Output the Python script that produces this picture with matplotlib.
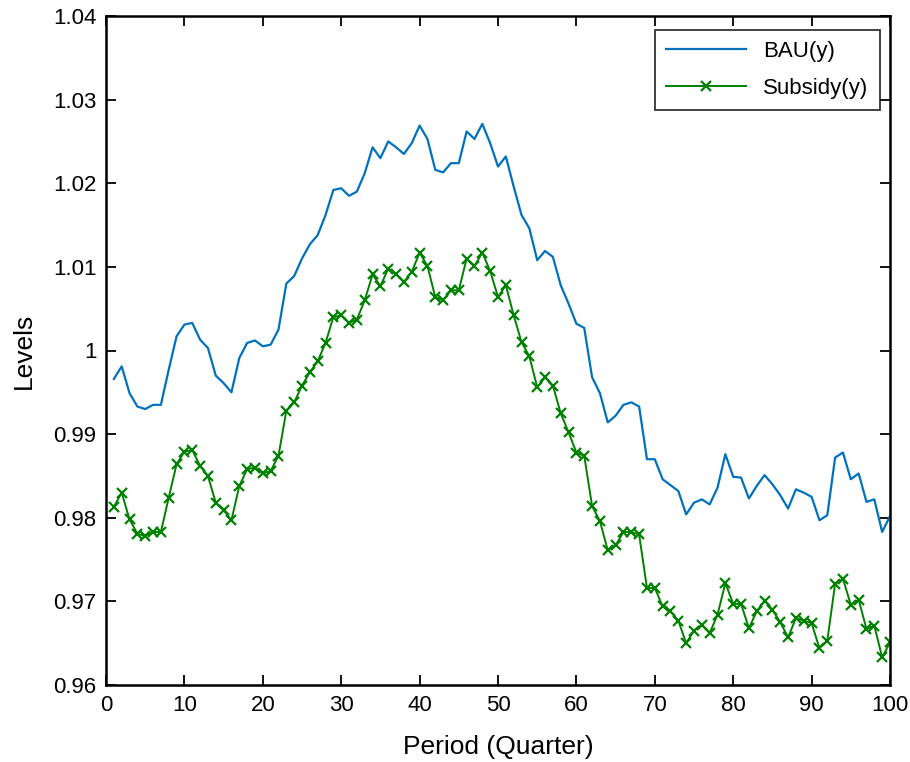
import matplotlib
matplotlib.use("Agg")
import matplotlib.pyplot as plt
import numpy as np

plt.rcParams['font.family'] = ['Liberation Sans', 'DejaVu Sans']

periods = list(range(1, 101))

bau_y = [
    0.9966, 0.9981, 0.9949, 0.9933, 0.9930, 0.9935, 0.9935, 0.9977, 1.0017, 1.0031,
    1.0033, 1.0013, 1.0003, 0.9970, 0.9961, 0.9950, 0.9991, 1.0009, 1.0012, 1.0005,
    1.0007, 1.0025, 1.0080, 1.0089, 1.0110, 1.0127, 1.0138, 1.0162, 1.0192, 1.0194,
    1.0185, 1.0190, 1.0212, 1.0243, 1.0230, 1.0250, 1.0243, 1.0235, 1.0248, 1.0269,
    1.0253, 1.0216, 1.0213, 1.0224, 1.0224, 1.0262, 1.0253, 1.0271, 1.0248, 1.0220,
    1.0232, 1.0196, 1.0162, 1.0146, 1.0108, 1.0119, 1.0112, 1.0078, 1.0056, 1.0032,
    1.0027, 0.9968, 0.9949, 0.9914, 0.9922, 0.9935, 0.9938, 0.9933, 0.9870, 0.9870,
    0.9846, 0.9839, 0.9832, 0.9804, 0.9818, 0.9822, 0.9816, 0.9836, 0.9876, 0.9849,
    0.9848, 0.9823, 0.9838, 0.9851, 0.9840, 0.9827, 0.9811, 0.9834, 0.9830, 0.9825,
    0.9797, 0.9803, 0.9872, 0.9878, 0.9846, 0.9853, 0.9819, 0.9822, 0.9783, 0.9802,
]

subsidy_y = [
    0.9813, 0.9830, 0.9798, 0.9781, 0.9778, 0.9783, 0.9783, 0.9824, 0.9864, 0.9879,
    0.9881, 0.9862, 0.9850, 0.9818, 0.9809, 0.9797, 0.9838, 0.9858, 0.9860, 0.9853,
    0.9856, 0.9874, 0.9928, 0.9938, 0.9958, 0.9974, 0.9987, 1.0009, 1.0040, 1.0042,
    1.0033, 1.0037, 1.0060, 1.0091, 1.0077, 1.0098, 1.0091, 1.0082, 1.0094, 1.0117,
    1.0101, 1.0064, 1.0060, 1.0072, 1.0072, 1.0110, 1.0101, 1.0117, 1.0095, 1.0064,
    1.0078, 1.0042, 1.0010, 0.9993, 0.9956, 0.9968, 0.9958, 0.9925, 0.9902, 0.9878,
    0.9874, 0.9814, 0.9796, 0.9761, 0.9767, 0.9783, 0.9783, 0.9780, 0.9716, 0.9716,
    0.9694, 0.9688, 0.9677, 0.9650, 0.9665, 0.9672, 0.9662, 0.9684, 0.9722, 0.9697,
    0.9697, 0.9668, 0.9688, 0.9701, 0.9690, 0.9675, 0.9657, 0.9680, 0.9677, 0.9674,
    0.9644, 0.9653, 0.9721, 0.9727, 0.9696, 0.9702, 0.9667, 0.9671, 0.9633, 0.9651,
]

xticks = list(range(0, 101, 10))
yticks = [0.96, 0.97, 0.98, 0.99, 1.00, 1.01, 1.02, 1.03, 1.04]
ytick_labels = ['0.96', '0.97', '0.98', '0.99', '1', '1.01', '1.02', '1.03', '1.04']

fig = plt.figure(figsize=(9.1, 7.62), dpi=100)
ax = fig.add_axes([106/910, 1-685/762, (890-106)/910, (685-16)/762])

ax.plot(periods, bau_y, color='#0072BD', lw=1.6, label='BAU(y)')
ax.plot(periods, subsidy_y, color='#008000', lw=1.4, marker='x', ms=7, mew=1.6,
        label='Subsidy(y)')

ax.set_xlim(0, 100)
ax.set_ylim(0.96, 1.04)
ax.set_xticks(xticks)
ax.set_yticks(yticks)
ax.set_yticklabels(ytick_labels)
ax.tick_params(direction='in', top=True, right=True, labelsize=16, length=7, width=1.3,
               colors='black', pad=7)
for s in ax.spines.values():
    s.set_linewidth(1.8)
    s.set_color('black')

ax.set_xlabel('Period (Quarter)', fontsize=19, labelpad=14)
ax.set_ylabel('Levels', fontsize=19, labelpad=12)

leg = ax.legend(loc='upper right', fontsize=16, frameon=True, fancybox=False,
                edgecolor='black', handlelength=3.6, borderpad=0.5, labelspacing=0.7,
                borderaxespad=0, bbox_to_anchor=(0.987, 0.979))
leg.get_frame().set_linewidth(1.3)

fig.savefig('out.png', dpi=100)
